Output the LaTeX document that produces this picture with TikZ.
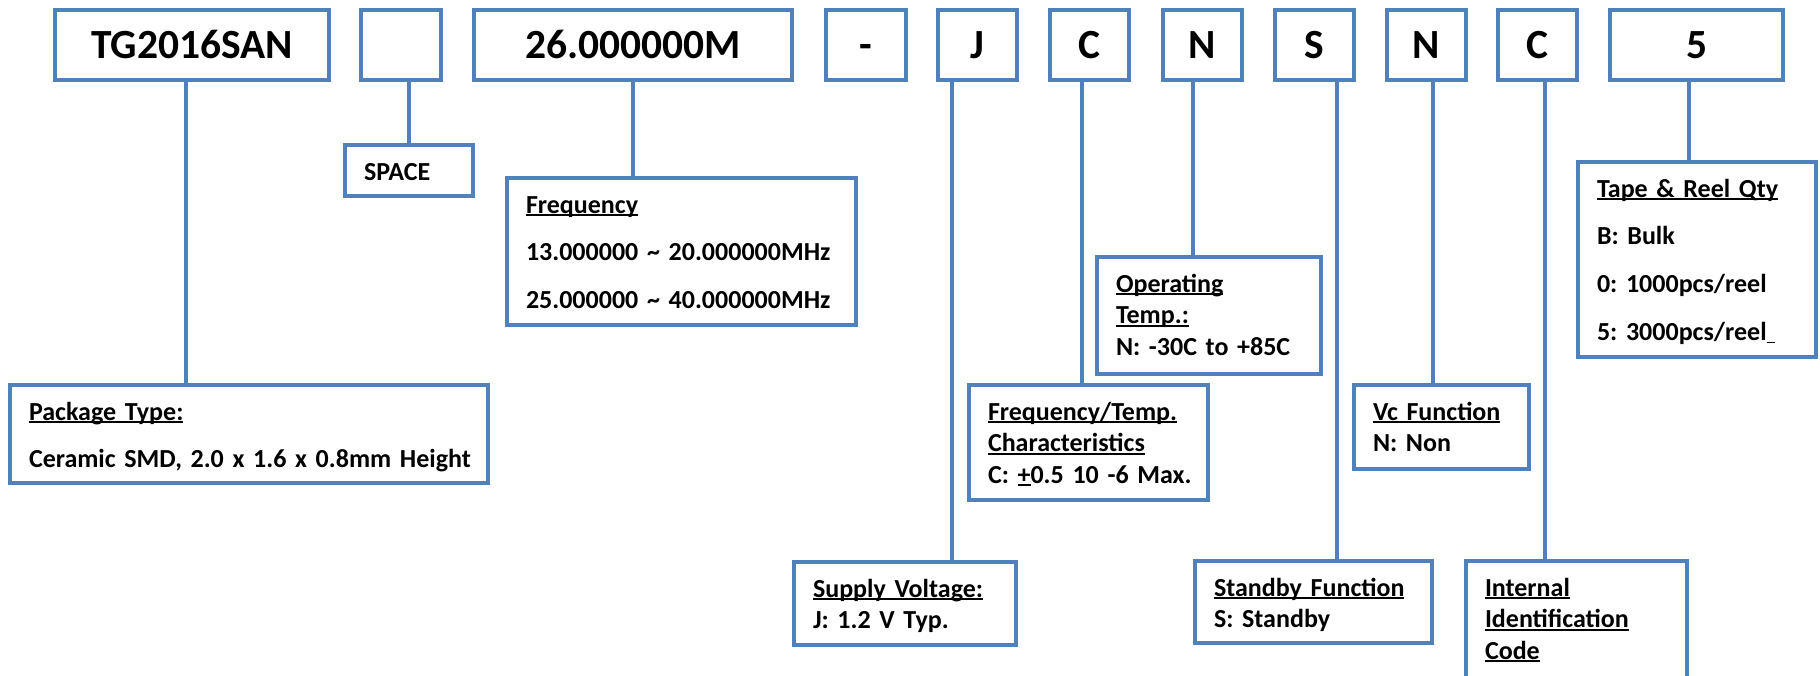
\documentclass[tikz,border=0pt]{standalone}
\usepackage{fontspec}
\setmainfont{Carlito}[WordSpace=0.8]
\usetikzlibrary{positioning}
\definecolor{ublue}{RGB}{79,129,189}
\frenchspacing
% underline that keeps off the descenders
\newcommand{\ulh}[1]{\leavevmode\setbox0\hbox{#1}\rlap{\rule[-3pt]{\wd0}{1.6pt}}\box0\relax}

\begin{document}
\begin{tikzpicture}
	[x=1pt,y=-1pt,
	code/.style={draw=ublue,line width=4pt,inner sep=0pt,outer sep=0pt,anchor=north west,
		minimum width=79pt,minimum height=70pt,text height=27pt,text depth=0pt,
		font=\fontsize{41.5}{50}\selectfont\bfseries},
	info/.style={draw=ublue,line width=4pt,anchor=north west,align=left,inner xsep=19pt,
		inner ysep=0pt,outer sep=0pt,text height=35pt,font=\fontsize{26}{31.5}\selectfont\bfseries},
	wide/.style={font=\fontsize{26}{47.5}\selectfont\bfseries},
	conn/.style={draw=ublue,line width=4pt}]

	\useasboundingbox (0,0) rectangle (1820,675);

	% part number fields
	\node[code,minimum width=274pt] (tg) at (55,10) {TG2016SAN};
	\node[code,minimum width=80pt] (sp) at (361,10) {};
	\node[code,minimum width=318pt] (mhz) at (474,10) {26.000000M};
	\node[code,minimum width=80pt] (dash) at (826,10) {-};
	\node[code] (j) at (938,10) {J};
	\node[code] (c) at (1050,10) {C};
	\node[code] (n) at (1163,10) {N};
	\node[code] (s) at (1275,10) {S};
	\node[code] (vn) at (1387,10) {N};
	\node[code] (ic) at (1498,10) {C};
	\node[code,minimum width=173pt] (qty) at (1610,10) {5};

	% explanations
	\node[info,wide,text width=440pt,text depth=63pt] (pkg) at (10,385)
		{\ulh{Package Type:}\\\mbox{Ceramic SMD, 2.0 x 1.6 x 0.8mm Height}};
	\node[info,text width=90pt,text depth=16pt] (spc) at (345,145) {SPACE};
	\node[info,wide,text width=311pt,text depth=112pt] (freq) at (507,178)
		{\ulh{Frequency}\\\mbox{13.000000 \char`\~{} 20.000000MHz}\\\mbox{25.000000 \char`\~{} 40.000000MHz}};
	\node[info,text width=184pt,text depth=48pt] (volt) at (794,562)
		{\ulh{Supply Voltage:}\\J: 1.2 V Typ.};
	\node[info,text width=201pt,text depth=80pt] (ftc) at (969,385)
		{\ulh{Frequency/Temp.}\\\ulh{Characteristics}\\\mbox{C: \ulh{+}0.5 10 -6 Max.}};
	\node[info,text width=186pt,text depth=82pt] (temp) at (1097,257)
		{\ulh{Operating}\\\ulh{Temp.:}\\\mbox{N: -30C to +85C}};
	\node[info,text width=199pt,text depth=47pt] (stby) at (1195,561)
		{\ulh{Standby Function}\\S: Standby};
	\node[info,text width=137pt,text depth=49pt] (vc) at (1354,385)
		{\ulh{Vc Function}\\N: Non};
	\node[info,text width=183pt,text depth=123pt] (idc) at (1466,561)
		{\ulh{Internal}\\\ulh{Identification}\\\ulh{Code}};
	\node[info,font=\fontsize{26}{47.7}\selectfont\bfseries,text width=200pt,text depth=160pt] (reel) at (1578,162)
		{\ulh{Tape \& Reel Qty}\\B: Bulk\\0: 1000pcs/reel\\\mbox{5: 3000pcs/reel\ulh{\ }}};

	% leader lines
	\draw[conn] ([xshift=-6pt]tg.south) -- ([xshift=-6pt]tg.south |- pkg.north);
	\draw[conn] (spc.north |- sp.south) -- (spc.north);
	\draw[conn] (mhz.south) -- (mhz.south |- freq.north);
	\draw[conn] ([xshift=-25.5pt]j.south) -- ([xshift=-25.5pt]j.south |- volt.north);
	\draw[conn] ([xshift=-8pt]c.south) -- ([xshift=-8pt]c.south |- ftc.north);
	\draw[conn] ([xshift=-9.5pt]n.south) -- ([xshift=-9.5pt]n.south |- temp.north);
	\draw[conn] ([xshift=22.5pt]s.south) -- ([xshift=22.5pt]s.south |- stby.north);
	\draw[conn] ([xshift=6pt]vn.south) -- ([xshift=6pt]vn.south |- vc.north);
	\draw[conn] ([xshift=7.5pt]ic.south) -- ([xshift=7.5pt]ic.south |- idc.north);
	\draw[conn] ([xshift=-7.5pt]qty.south) -- ([xshift=-7.5pt]qty.south |- reel.north);
\end{tikzpicture}
\end{document}
